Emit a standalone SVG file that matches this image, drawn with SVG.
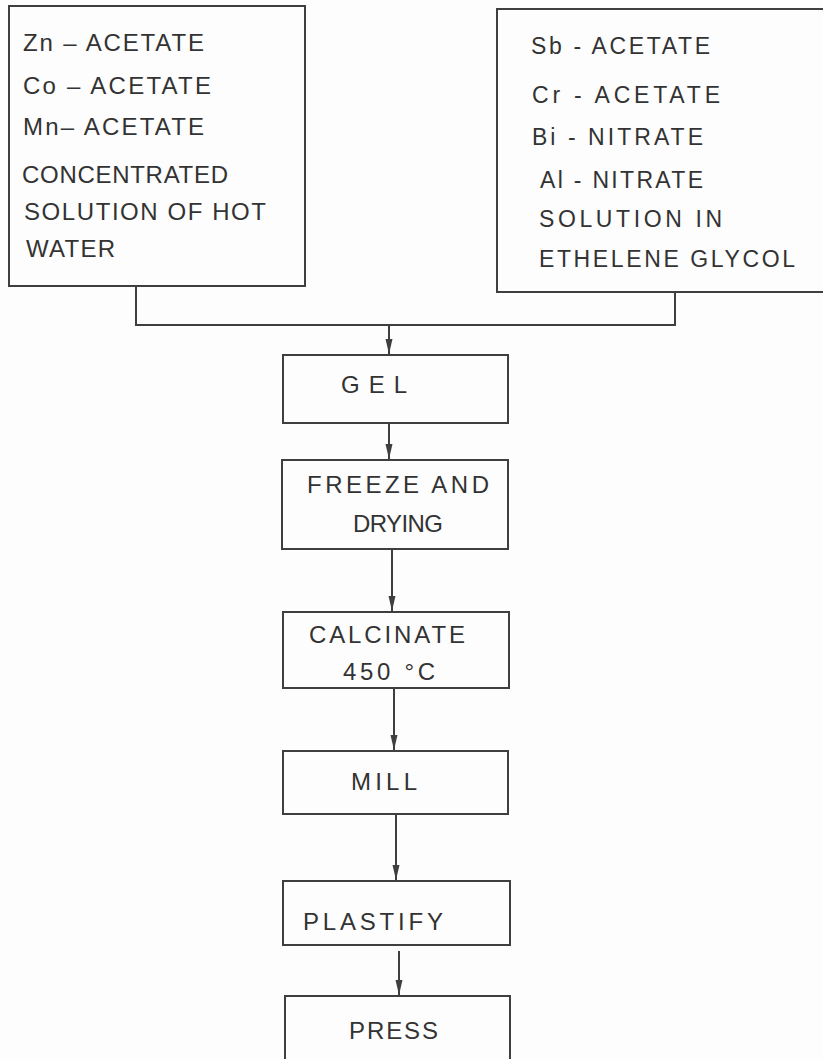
<svg xmlns="http://www.w3.org/2000/svg" width="823" height="1059" viewBox="0 0 823 1059">
<style>
.box{fill:none;stroke:#3f3f3f;stroke-width:2}
.ln{fill:none;stroke:#3f3f3f;stroke-width:2}
text{font-family:"Liberation Sans","DejaVu Sans",sans-serif;font-size:24px;fill:#333}
.r{font-size:23px}
</style>
<defs>
<marker id="ah" markerUnits="userSpaceOnUse" markerWidth="16" markerHeight="8" refX="15" refY="4" orient="auto" viewBox="0 0 16 8">
<path d="M0,0.5 L15,4 L0,7.5 Z" fill="#3f3f3f"/>
</marker>
</defs>
<rect width="823" height="1059" fill="#fdfdfd"/>
<g id="connectors">
<polyline class="ln" points="136,285 136,325 675,325 675,292"/>
<path class="ln" d="M389,325 V354" marker-end="url(#ah)"/>
<path class="ln" d="M389,423 V459" marker-end="url(#ah)"/>
<path class="ln" d="M392,549 V611" marker-end="url(#ah)"/>
<path class="ln" d="M394,688 V750" marker-end="url(#ah)"/>
<path class="ln" d="M396,814 V880" marker-end="url(#ah)"/>
<path class="ln" d="M399,951 V995" marker-end="url(#ah)"/>
</g>
<g id="node-left">
<rect class="box" x="9" y="6" width="296" height="280"/>
<text x="23" y="51" textLength="181" lengthAdjust="spacing">Zn – ACETATE</text>
<text x="23" y="94" textLength="188" lengthAdjust="spacing">Co – ACETATE</text>
<text x="23" y="135" textLength="181" lengthAdjust="spacing">Mn– ACETATE</text>
<text x="22" y="183" textLength="206" lengthAdjust="spacing">CONCENTRATED</text>
<text x="24" y="220" textLength="242" lengthAdjust="spacing">SOLUTION OF HOT</text>
<text x="26" y="257" textLength="89" lengthAdjust="spacing">WATER</text>
</g>
<g id="node-right">
<rect class="box" x="497" y="9" width="340" height="283"/>
<text class="r" x="531" y="54" textLength="179" lengthAdjust="spacing">Sb - ACETATE</text>
<text class="r" x="532" y="103" textLength="188" lengthAdjust="spacing">Cr - ACETATE</text>
<text class="r" x="532" y="145" textLength="171" lengthAdjust="spacing">Bi - NITRATE</text>
<text class="r" x="540" y="188" textLength="163" lengthAdjust="spacing">Al - NITRATE</text>
<text class="r" x="539" y="227" textLength="183" lengthAdjust="spacing">SOLUTION IN</text>
<text class="r" x="539" y="267" textLength="256" lengthAdjust="spacing">ETHELENE GLYCOL</text>
</g>
<g id="node-gel">
<rect class="box" x="283" y="355" width="225" height="68"/>
<text x="341" y="393" textLength="66" lengthAdjust="spacing">GEL</text>
</g>
<g id="node-freeze">
<rect class="box" x="282" y="460" width="226" height="89"/>
<text x="307" y="493" textLength="182" lengthAdjust="spacing">FREEZE AND</text>
<text x="353" y="532" textLength="90" lengthAdjust="spacing">DRYING</text>
</g>
<g id="node-calcinate">
<rect class="box" x="283" y="612" width="226" height="76"/>
<text x="309" y="643" textLength="156" lengthAdjust="spacing">CALCINATE</text>
<text x="343" y="680" textLength="92" lengthAdjust="spacing">450 °C</text>
</g>
<g id="node-mill">
<rect class="box" x="283" y="751" width="225" height="63"/>
<text x="351" y="790" textLength="66" lengthAdjust="spacing">MILL</text>
</g>
<g id="node-plastify">
<rect class="box" x="283" y="881" width="227" height="64"/>
<text x="303" y="930" textLength="140" lengthAdjust="spacing">PLASTIFY</text>
</g>
<g id="node-press">
<rect class="box" x="285" y="996" width="225" height="80"/>
<text x="349" y="1039" textLength="89" lengthAdjust="spacing">PRESS</text>
</g>
</svg>
